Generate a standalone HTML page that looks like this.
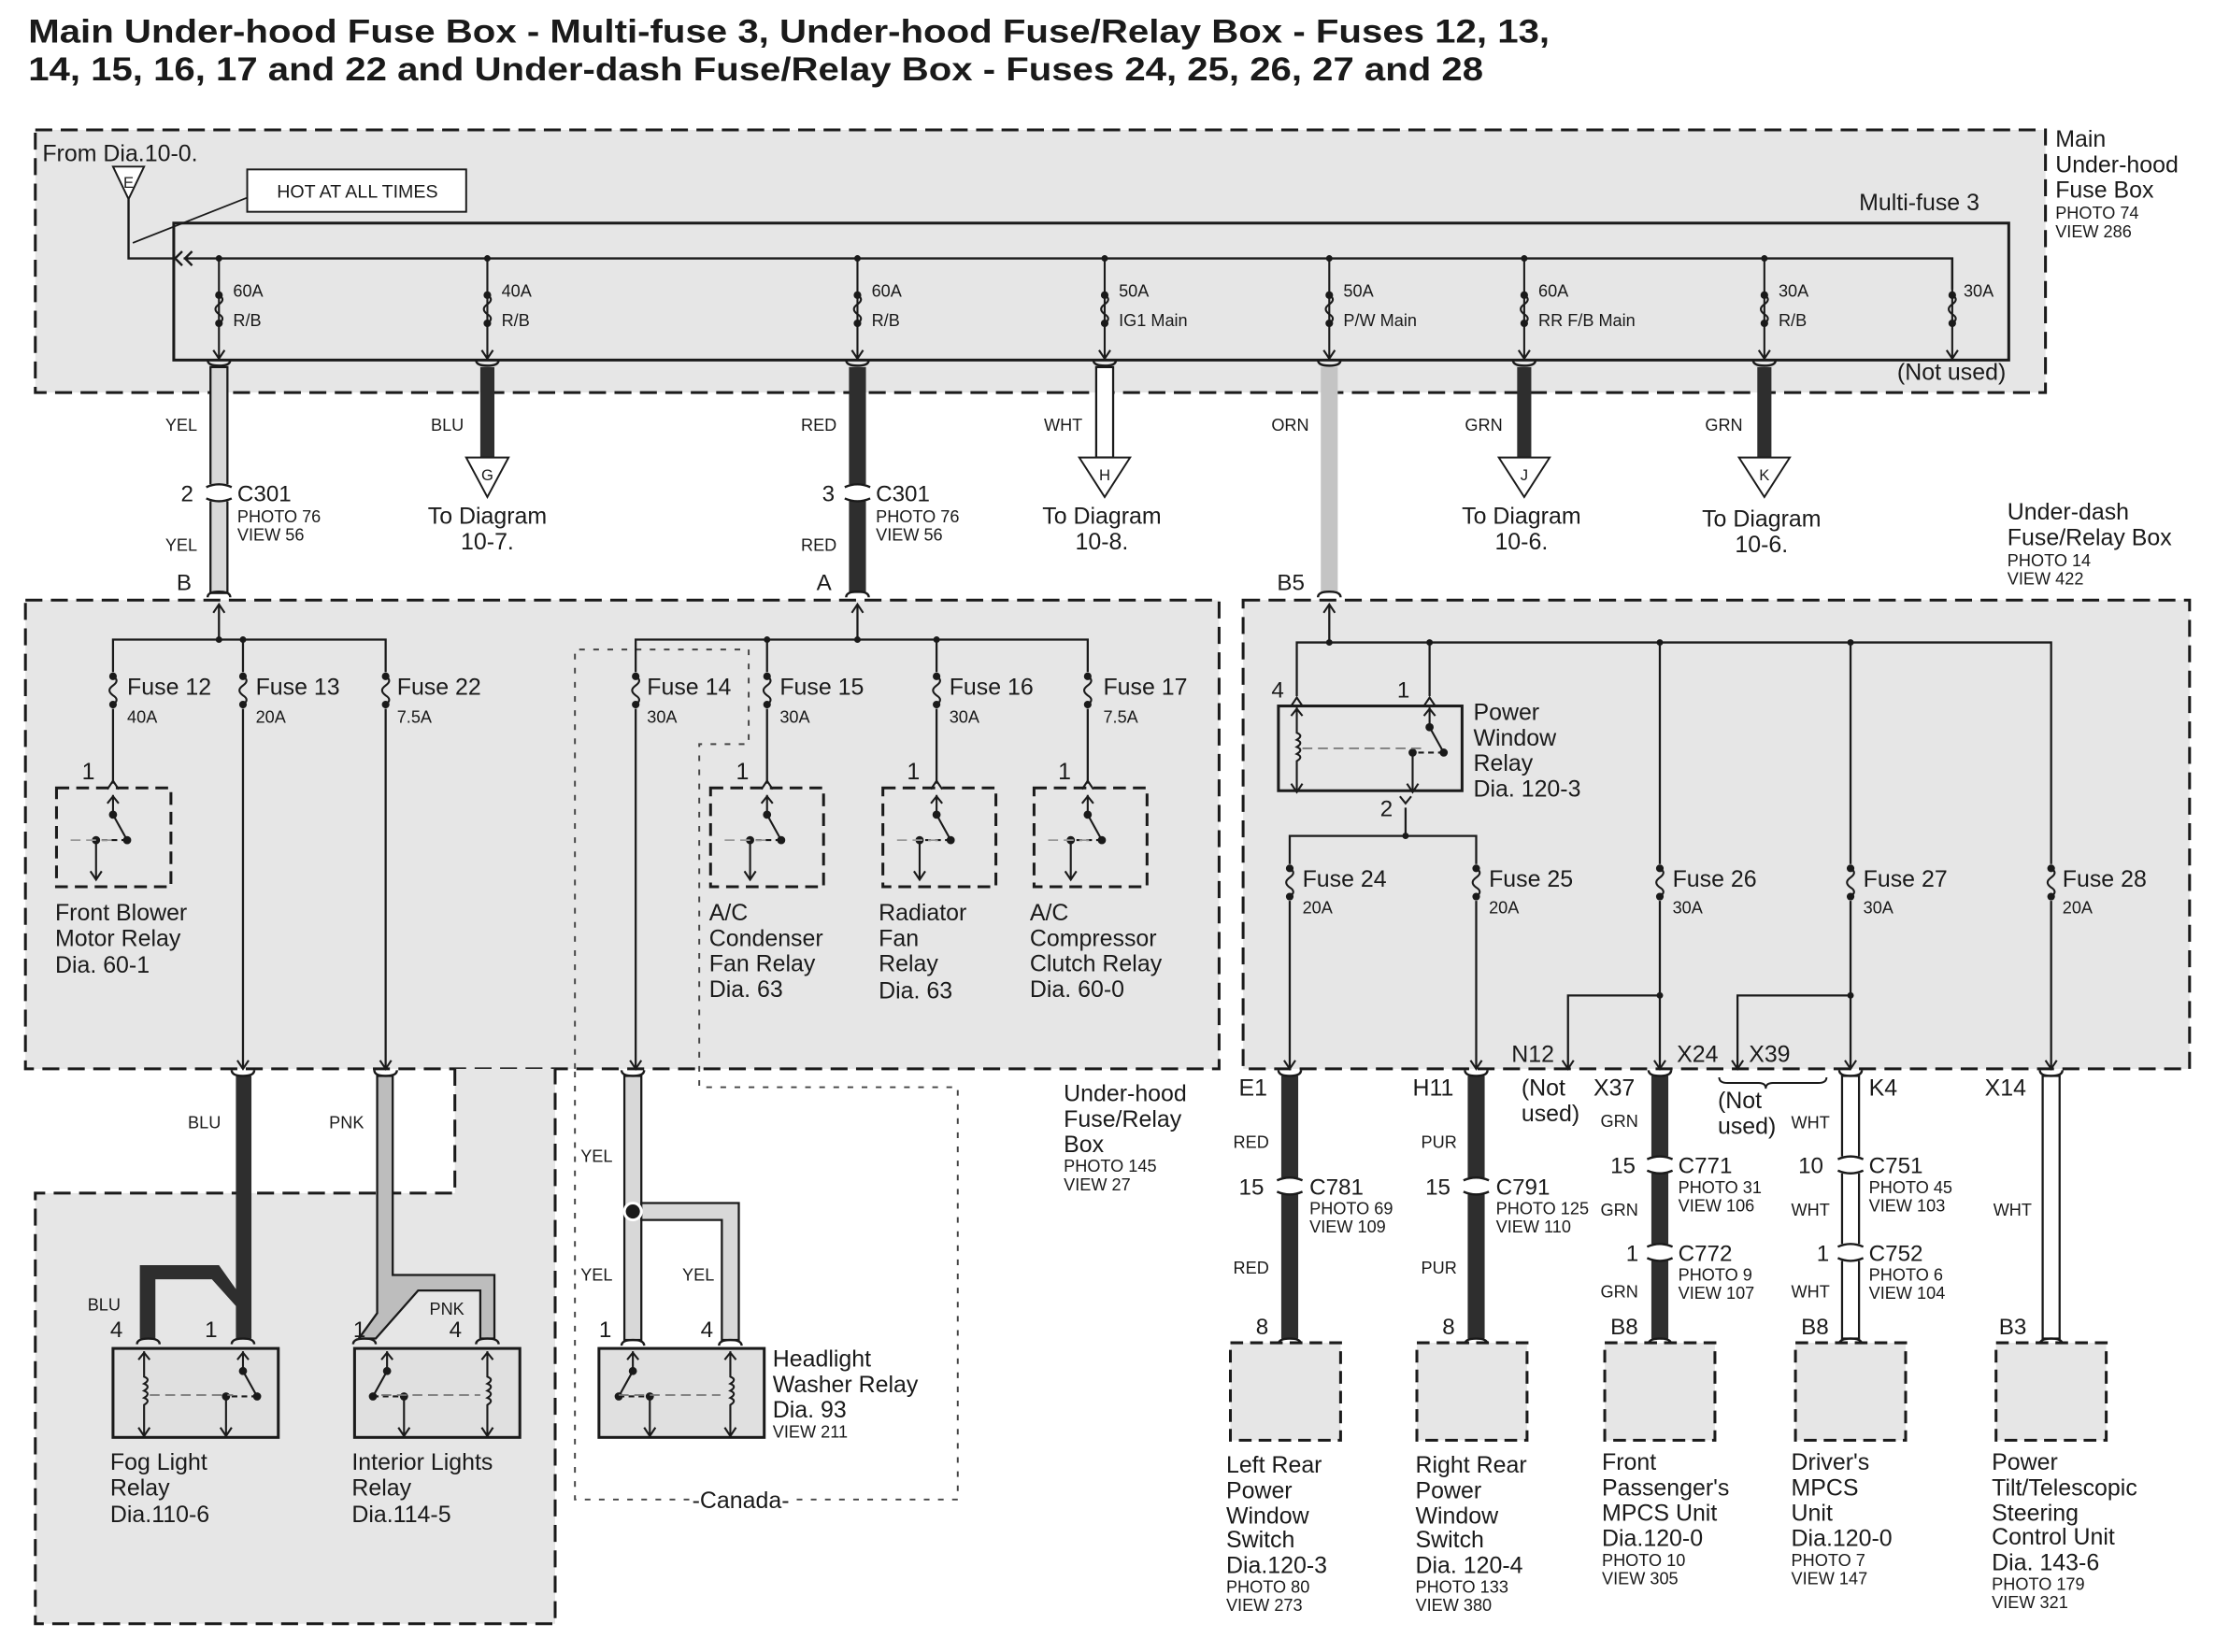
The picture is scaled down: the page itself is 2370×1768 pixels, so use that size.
<!DOCTYPE html>
<html><head><meta charset="utf-8"><style>
html,body{margin:0;padding:0;background:#fff}
svg{display:block}
text{font-family:"Liberation Sans",Arial,sans-serif;fill:#1a1a1a}
.b{font-weight:bold;font-size:23px}
.m{font-size:16.5px}
.s{font-size:12px}
.p{font-size:16px}
</style></head><body>
<svg width="2370" height="1768" viewBox="0 0 1568 1170" preserveAspectRatio="none" xmlns="http://www.w3.org/2000/svg">
<defs>
<g id="fz" fill="none" stroke="#1a1a1a" stroke-width="1.4"><path d="M0,-10 q5,3 0,6.5 q-5,3.5 0,7 q5,3 0,6.5"/><circle cx="0" cy="-10" r="2" fill="#1a1a1a"/><circle cx="0" cy="10" r="2" fill="#1a1a1a"/></g>
<g id="ar" fill="none" stroke="#1a1a1a" stroke-width="1.4"><path d="M-4,-6 L0,0 L4,-6"/></g>
<g id="au" fill="none" stroke="#1a1a1a" stroke-width="1.4"><path d="M-4,6 L0,0 L4,6"/></g>
<g id="cn" fill="none" stroke="#1a1a1a" stroke-width="1.6"><path d="M-9,-4 q9,-4 18,0 M-9,4 q9,4 18,0"/></g>
<g id="pt" fill="none" stroke="#1a1a1a" stroke-width="1.6"><path d="M-8,4 q0,-4 8,-4 q8,0 8,4"/></g>
<g id="pb" fill="none" stroke="#1a1a1a" stroke-width="1.6"><path d="M-8,-4 q0,4 8,4 q8,0 8,-4"/></g>
<g id="sw" fill="none" stroke="#1a1a1a" stroke-width="1.4"><path d="M0,0 V14 L10,32"/><path d="M-4,6 L0,1 L4,6"/><circle cx="0" cy="14" r="2.2" fill="#1a1a1a"/><circle cx="10" cy="32" r="2.2" fill="#1a1a1a"/><path d="M10,32 H-12" stroke-dasharray="4 3"/><circle cx="-12" cy="32" r="2.2" fill="#1a1a1a"/><path d="M-12,32 V60 M-16,54 L-12,60 L-8,54"/></g>
<g id="coil" fill="none" stroke="#1a1a1a" stroke-width="1.4"><path d="M0,0 V18 q5,2 0,5 q5,2 0,5 q5,2 0,5 q5,2 0,5 V60"/><path d="M-4,6 L0,1 L4,6 M-4,54 L0,60 L4,54"/></g>
</defs>

<text class="b" x="20" y="30" textLength="1077" lengthAdjust="spacingAndGlyphs">Main Under-hood Fuse Box - Multi-fuse 3, Under-hood Fuse/Relay Box - Fuses 12, 13,</text>
<text class="b" x="20" y="57" textLength="1030" lengthAdjust="spacingAndGlyphs">14, 15, 16, 17 and 22 and Under-dash Fuse/Relay Box - Fuses 24, 25, 26, 27 and 28</text>

<!-- main box -->
<rect x="25" y="92" width="1423" height="186" fill="#e6e6e6" stroke="#1a1a1a" stroke-width="2" stroke-dasharray="12 6"/>
<text class="m" x="1455" y="104">Main</text><text class="m" x="1455" y="122">Under-hood</text><text class="m" x="1455" y="140">Fuse Box</text>
<text class="s" x="1455" y="155">PHOTO 74</text><text class="s" x="1455" y="168">VIEW 286</text>
<text class="m" x="30" y="114">From Dia.10-0.</text>
<path d="M80,118 H102 L91,141 Z" fill="#fff" stroke="#1a1a1a" stroke-width="1.3"/><text x="91" y="133" font-size="11" text-anchor="middle">E</text>
<rect x="175" y="120" width="155" height="30" fill="#fff" stroke="#1a1a1a" stroke-width="1.3"/>
<text x="253" y="140" font-size="13" text-anchor="middle">HOT AT ALL TIMES</text>
<path d="M175,140 L94,172" stroke="#1a1a1a" stroke-width="1.2" fill="none"/>
<rect x="123" y="158" width="1299" height="97" fill="none" stroke="#1a1a1a" stroke-width="2"/>
<text class="m" x="1316" y="149">Multi-fuse 3</text>
<path d="M91,141 V183 H125 M129,178 L124,183 L129,188 M136,178 L131,183 L136,188 M130,183 H1382 V205" stroke="#1a1a1a" stroke-width="1.6" fill="none"/>
<g stroke="#1a1a1a" stroke-width="1.4">
<line x1="155" y1="183" x2="155" y2="255"/><line x1="345" y1="183" x2="345" y2="255"/><line x1="607" y1="183" x2="607" y2="255"/><line x1="782" y1="183" x2="782" y2="255"/><line x1="941" y1="183" x2="941" y2="255"/><line x1="1079" y1="183" x2="1079" y2="255"/><line x1="1249" y1="183" x2="1249" y2="255"/><line x1="1382" y1="183" x2="1382" y2="255"/>
</g>
<g fill="#1a1a1a"><circle cx="155" cy="183" r="2.3"/><circle cx="345" cy="183" r="2.3"/><circle cx="607" cy="183" r="2.3"/><circle cx="782" cy="183" r="2.3"/><circle cx="941" cy="183" r="2.3"/><circle cx="1079" cy="183" r="2.3"/><circle cx="1249" cy="183" r="2.3"/></g>
<g>
<use href="#fz" x="155" y="219"/><use href="#fz" x="345" y="219"/><use href="#fz" x="607" y="219"/><use href="#fz" x="782" y="219"/><use href="#fz" x="941" y="219"/><use href="#fz" x="1079" y="219"/><use href="#fz" x="1249" y="219"/><use href="#fz" x="1382" y="219"/>
<use href="#ar" x="155" y="254"/><use href="#ar" x="345" y="254"/><use href="#ar" x="607" y="254"/><use href="#ar" x="782" y="254"/><use href="#ar" x="941" y="254"/><use href="#ar" x="1079" y="254"/><use href="#ar" x="1249" y="254"/><use href="#ar" x="1382" y="254"/>
</g>
<text class="s" x="165" y="210">60A</text><text class="s" x="165" y="231">R/B</text>
<text class="s" x="355" y="210">40A</text><text class="s" x="355" y="231">R/B</text>
<text class="s" x="617" y="210">60A</text><text class="s" x="617" y="231">R/B</text>
<text class="s" x="792" y="210">50A</text><text class="s" x="792" y="231">IG1 Main</text>
<text class="s" x="951" y="210">50A</text><text class="s" x="951" y="231">P/W Main</text>
<text class="s" x="1089" y="210">60A</text><text class="s" x="1089" y="231">RR F/B Main</text>
<text class="s" x="1259" y="210">30A</text><text class="s" x="1259" y="231">R/B</text>
<text class="s" x="1390" y="210">30A</text>
<text class="m" x="1343" y="269">(Not used)</text>

<!-- wires from main box -->
<rect x="149" y="260" width="12" height="160" fill="#d8d8d8" stroke="#1a1a1a" stroke-width="1.5"/>
<rect x="340" y="260" width="10" height="64" fill="#2e2e2e"/>
<rect x="601" y="260" width="12" height="160" fill="#2e2e2e"/>
<rect x="776" y="260" width="12" height="64" fill="#fff" stroke="#1a1a1a" stroke-width="1.5"/>
<rect x="935" y="260" width="12" height="160" fill="#c4c4c4"/>
<rect x="1074" y="260" width="10" height="64" fill="#2e2e2e"/>
<rect x="1244" y="260" width="10" height="64" fill="#2e2e2e"/>
<use href="#pb" x="155" y="259"/><use href="#pb" x="345" y="259"/><use href="#pb" x="607" y="259"/><use href="#pb" x="782" y="259"/><use href="#pb" x="941" y="259"/><use href="#pb" x="1079" y="259"/><use href="#pb" x="1249" y="259"/>
<rect x="145" y="343" width="20" height="12" fill="#fff"/><use href="#cn" x="155" y="349"/>
<rect x="597" y="343" width="20" height="12" fill="#fff"/><use href="#cn" x="607" y="349"/>
<use href="#pt" x="155" y="419"/><use href="#pt" x="607" y="419"/><use href="#pt" x="941" y="419"/>
<text class="s" x="117" y="305">YEL</text><text class="s" x="117" y="390">YEL</text>
<text class="p" x="128" y="355">2</text><text class="p" x="168" y="355">C301</text>
<text class="s" x="168" y="370">PHOTO 76</text><text class="s" x="168" y="383">VIEW 56</text>
<text class="p" x="125" y="418">B</text>
<text class="s" x="305" y="305">BLU</text>
<text class="s" x="567" y="305">RED</text><text class="s" x="567" y="390">RED</text>
<text class="p" x="582" y="355">3</text><text class="p" x="620" y="355">C301</text>
<text class="s" x="620" y="370">PHOTO 76</text><text class="s" x="620" y="383">VIEW 56</text>
<text class="p" x="578" y="418">A</text>
<text class="s" x="739" y="305">WHT</text>
<text class="s" x="900" y="305">ORN</text>
<text class="p" x="904" y="418">B5</text>
<text class="s" x="1037" y="305">GRN</text><text class="s" x="1207" y="305">GRN</text>
<g fill="#fff" stroke="#1a1a1a" stroke-width="1.3">
<path d="M330,324 H360 L345,352 Z"/><path d="M764,324 H800 L782,352 Z"/><path d="M1061,324 H1097 L1079,352 Z"/><path d="M1231,324 H1267 L1249,352 Z"/>
</g>
<text x="345" y="340" font-size="11" text-anchor="middle">G</text><text x="782" y="340" font-size="11" text-anchor="middle">H</text><text x="1079" y="340" font-size="11" text-anchor="middle">J</text><text x="1249" y="340" font-size="11" text-anchor="middle">K</text>
<g text-anchor="middle">
<text x="345" y="371" class="m">To Diagram</text><text x="345" y="389" class="m">10-7.</text>
<text x="780" y="371" class="m">To Diagram</text><text x="780" y="389" class="m">10-8.</text>
<text x="1077" y="371" class="m">To Diagram</text><text x="1077" y="389" class="m">10-6.</text>
<text x="1247" y="373" class="m">To Diagram</text><text x="1247" y="391" class="m">10-6.</text>
</g>
<text class="m" x="1421" y="368">Under-dash</text><text class="m" x="1421" y="386">Fuse/Relay Box</text>
<text class="s" x="1421" y="401">PHOTO 14</text><text class="s" x="1421" y="414">VIEW 422</text>

<!-- under-hood fuse/relay box -->
<rect x="18" y="425" width="845" height="332" fill="#e6e6e6" stroke="#1a1a1a" stroke-width="2" stroke-dasharray="12 6"/>
<rect x="322" y="757" width="71" height="90" fill="#e6e6e6"/>
<rect x="25" y="845" width="368" height="305" fill="#e6e6e6"/>
<path d="M407,757 V460 H530 V527 H495 V770 H678 V1062 H407 Z" fill="none" stroke="#444" stroke-width="1.3" stroke-dasharray="4 6"/>
<path d="M322,757 V845 H25 V1150 H393 V757" fill="none" stroke="#1a1a1a" stroke-width="2" stroke-dasharray="12 6"/>
<g stroke="#1a1a1a" stroke-width="1.5" fill="none">
<path d="M155,453 V428"/><path d="M80,555 V453 H273 V757"/><path d="M172,453 V757"/>
<path d="M450,757 V453 H770 V555"/><path d="M543,453 V555"/><path d="M663,453 V555"/><path d="M607,453 V428"/>
</g>
<use href="#au" x="155" y="428"/><use href="#au" x="607" y="428"/>
<g fill="#1a1a1a"><circle cx="155" cy="453" r="2.3"/><circle cx="172" cy="453" r="2.3"/><circle cx="543" cy="453" r="2.3"/><circle cx="607" cy="453" r="2.3"/><circle cx="663" cy="453" r="2.3"/></g>
<use href="#ar" x="172" y="757"/><use href="#ar" x="273" y="757"/><use href="#ar" x="450" y="757"/>
<rect x="75" y="476" width="10" height="26" fill="#e6e6e6"/><rect x="167" y="476" width="10" height="26" fill="#e6e6e6"/><rect x="268" y="476" width="10" height="26" fill="#e6e6e6"/><rect x="445" y="476" width="10" height="26" fill="#e6e6e6"/><rect x="538" y="476" width="10" height="26" fill="#e6e6e6"/><rect x="658" y="476" width="10" height="26" fill="#e6e6e6"/><rect x="765" y="476" width="10" height="26" fill="#e6e6e6"/>
<use href="#fz" x="80" y="489"/><use href="#fz" x="172" y="489"/><use href="#fz" x="273" y="489"/><use href="#fz" x="450" y="489"/><use href="#fz" x="543" y="489"/><use href="#fz" x="663" y="489"/><use href="#fz" x="770" y="489"/>
<text class="m" x="90" y="492">Fuse 12</text><text class="s" x="90" y="512">40A</text>
<text class="m" x="181" y="492">Fuse 13</text><text class="s" x="181" y="512">20A</text>
<text class="m" x="281" y="492">Fuse 22</text><text class="s" x="281" y="512">7.5A</text>
<text class="m" x="458" y="492">Fuse 14</text><text class="s" x="458" y="512">30A</text>
<text class="m" x="552" y="492">Fuse 15</text><text class="s" x="552" y="512">30A</text>
<text class="m" x="672" y="492">Fuse 16</text><text class="s" x="672" y="512">30A</text>
<text class="m" x="781" y="492">Fuse 17</text><text class="s" x="781" y="512">7.5A</text>
<g fill="none" stroke="#1a1a1a" stroke-width="2" stroke-dasharray="9 5">
<rect x="40" y="558" width="81" height="70"/><rect x="503" y="558" width="80" height="70"/><rect x="625" y="558" width="80" height="70"/><rect x="732" y="558" width="80" height="70"/>
</g>
<use href="#au" x="80" y="553"/><use href="#au" x="543" y="553"/><use href="#au" x="663" y="553"/><use href="#au" x="770" y="553"/>
<use href="#sw" x="80" y="563"/><use href="#sw" x="543" y="563"/><use href="#sw" x="663" y="563"/><use href="#sw" x="770" y="563"/>
<g stroke="#999" stroke-width="1.2" stroke-dasharray="7 4"><path d="M50,595 H82 M513,595 H545 M635,595 H665 M742,595 H772"/></g>
<text class="m" x="58" y="552">1</text><text class="m" x="521" y="552">1</text><text class="m" x="642" y="552">1</text><text class="m" x="749" y="552">1</text>
<text class="m" x="39" y="652">Front Blower</text><text class="m" x="39" y="670">Motor Relay</text><text class="m" x="39" y="689">Dia. 60-1</text>
<text class="m" x="502" y="652">A/C</text><text class="m" x="502" y="670">Condenser</text><text class="m" x="502" y="688">Fan Relay</text><text class="m" x="502" y="706">Dia. 63</text>
<text class="m" x="622" y="652">Radiator</text><text class="m" x="622" y="670">Fan</text><text class="m" x="622" y="688">Relay</text><text class="m" x="622" y="707">Dia. 63</text>
<text class="m" x="729" y="652">A/C</text><text class="m" x="729" y="670">Compressor</text><text class="m" x="729" y="688">Clutch Relay</text><text class="m" x="729" y="706">Dia. 60-0</text>
<text class="m" x="753" y="780">Under-hood</text><text class="m" x="753" y="798">Fuse/Relay</text><text class="m" x="753" y="816">Box</text>
<text class="s" x="753" y="830">PHOTO 145</text><text class="s" x="753" y="843">VIEW 27</text>

<!-- lower left wires -->
<path d="M167,762 h11 V948 h-11 V925 L150,906 H110 V948 h-11 V896 h56 L167,913 Z" fill="#2e2e2e"/>
<path d="M267,762 h11 V903 H350 V948 h-10 V914 H296 L266,948 H254 L267,930 Z" fill="#bdbdbd" stroke="#1a1a1a" stroke-width="1.5"/>
<use href="#pb" x="172" y="762"/><use href="#pb" x="273" y="762"/>
<use href="#pt" x="105" y="948"/><use href="#pt" x="172" y="948"/><use href="#pt" x="258" y="948"/><use href="#pt" x="345" y="948"/>
<text class="s" x="133" y="799">BLU</text><text class="s" x="233" y="799">PNK</text>
<text class="s" x="62" y="928">BLU</text><text class="s" x="304" y="931">PNK</text>
<text class="p" x="78" y="947">4</text><text class="p" x="145" y="947">1</text><text class="p" x="250" y="947">1</text><text class="p" x="318" y="947">4</text>
<rect x="80" y="955" width="117" height="63" fill="#e0e0e0" stroke="#1a1a1a" stroke-width="2"/>
<use href="#coil" x="102" y="957"/><use href="#sw" x="172" y="957"/>
<path d="M106,988 H165" stroke="#777" stroke-dasharray="7 4" stroke-width="1.2"/>
<rect x="251" y="955" width="117" height="63" fill="#e0e0e0" stroke="#1a1a1a" stroke-width="2"/>
<use href="#sw" transform="translate(548,0) scale(-1,1)" x="274" y="957"/><use href="#coil" x="345" y="957"/>
<path d="M270,988 H340" stroke="#777" stroke-dasharray="7 4" stroke-width="1.2"/>
<text class="m" x="78" y="1041">Fog Light</text><text class="m" x="78" y="1059">Relay</text><text class="m" x="78" y="1078">Dia.110-6</text>
<text class="m" x="249" y="1041">Interior Lights</text><text class="m" x="249" y="1059">Relay</text><text class="m" x="249" y="1078">Dia.114-5</text>

<!-- headlight washer -->
<rect x="442" y="762" width="12" height="187" fill="#d8d8d8" stroke="#1a1a1a" stroke-width="1.5"/>
<path d="M454,852 H523 V949 H511 V864 H454 Z" fill="#d8d8d8" stroke="#1a1a1a" stroke-width="1.5"/>
<circle cx="448" cy="858" r="7" fill="#fff"/><circle cx="448" cy="858" r="5" fill="#1a1a1a"/>
<use href="#pb" x="448" y="762"/><use href="#pt" x="448" y="949"/><use href="#pt" x="517" y="949"/>
<text class="s" x="411" y="823">YEL</text><text class="s" x="411" y="907">YEL</text><text class="s" x="483" y="907">YEL</text>
<text class="p" x="424" y="947">1</text><text class="p" x="496" y="947">4</text>
<rect x="424" y="955" width="117" height="63" fill="#e0e0e0" stroke="#1a1a1a" stroke-width="2"/>
<use href="#sw" transform="translate(896,0) scale(-1,1)" x="448" y="957"/><use href="#coil" x="517" y="957"/>
<path d="M438,988 H510" stroke="#777" stroke-dasharray="7 4" stroke-width="1.2"/>
<text class="m" x="547" y="968">Headlight</text><text class="m" x="547" y="986">Washer Relay</text><text class="m" x="547" y="1004">Dia. 93</text><text class="s" x="547" y="1018">VIEW 211</text>
<rect x="488" y="1052" width="72" height="18" fill="#fff"/>
<text class="m" x="490" y="1068">-Canada-</text>

<!-- under-dash box -->
<rect x="880" y="425" width="670" height="332" fill="#e6e6e6" stroke="#1a1a1a" stroke-width="2" stroke-dasharray="12 6"/>
<g stroke="#1a1a1a" stroke-width="1.5" fill="none">
<path d="M941,428 V455"/><path d="M918,493 V455 H1452 V757"/><path d="M1012,493 V455"/>
<path d="M1175,455 V757"/><path d="M1310,455 V757"/>
<path d="M995,572 V592 M913,757 V592 H1045 V757"/>
<path d="M1110,757 V705 H1175"/><path d="M1230,757 V705 H1310"/>
</g>
<use href="#au" x="941" y="428"/>
<g fill="#1a1a1a"><circle cx="941" cy="455" r="2.3"/><circle cx="1012" cy="455" r="2.3"/><circle cx="1175" cy="455" r="2.3"/><circle cx="1310" cy="455" r="2.3"/><circle cx="995" cy="592" r="2.3"/><circle cx="1175" cy="705" r="2.3"/><circle cx="1310" cy="705" r="2.3"/></g>
<use href="#au" x="918" y="494"/><use href="#au" x="1012" y="494"/>
<rect x="905" y="500" width="130" height="60" fill="#e6e6e6" stroke="#1a1a1a" stroke-width="2"/>
<use href="#coil" x="918" y="501"/>
<use href="#sw" x="1012" y="501"/>
<path d="M922,530 H1010" stroke="#777" stroke-dasharray="7 4" stroke-width="1.2"/>
<path d="M991,564 L995,569 L999,564" stroke="#1a1a1a" fill="none" stroke-width="1.4"/>
<text class="p" x="900" y="494">4</text><text class="p" x="989" y="494">1</text><text class="p" x="977" y="578">2</text>
<text class="m" x="1043" y="510">Power</text><text class="m" x="1043" y="528">Window</text><text class="m" x="1043" y="546">Relay</text><text class="m" x="1043" y="564">Dia. 120-3</text>
<rect x="908" y="612" width="10" height="26" fill="#e6e6e6"/><rect x="1040" y="612" width="10" height="26" fill="#e6e6e6"/><rect x="1170" y="612" width="10" height="26" fill="#e6e6e6"/><rect x="1305" y="612" width="10" height="26" fill="#e6e6e6"/><rect x="1447" y="612" width="10" height="26" fill="#e6e6e6"/>
<use href="#fz" x="913" y="625"/><use href="#fz" x="1045" y="625"/><use href="#fz" x="1175" y="625"/><use href="#fz" x="1310" y="625"/><use href="#fz" x="1452" y="625"/>
<text class="m" x="922" y="628">Fuse 24</text><text class="s" x="922" y="647">20A</text>
<text class="m" x="1054" y="628">Fuse 25</text><text class="s" x="1054" y="647">20A</text>
<text class="m" x="1184" y="628">Fuse 26</text><text class="s" x="1184" y="647">30A</text>
<text class="m" x="1319" y="628">Fuse 27</text><text class="s" x="1319" y="647">30A</text>
<text class="m" x="1460" y="628">Fuse 28</text><text class="s" x="1460" y="647">20A</text>
<use href="#ar" x="913" y="757"/><use href="#ar" x="1045" y="757"/><use href="#ar" x="1110" y="757"/><use href="#ar" x="1175" y="757"/><use href="#ar" x="1230" y="757"/><use href="#ar" x="1310" y="757"/><use href="#ar" x="1452" y="757"/>

<!-- under-dash wires -->
<rect x="907" y="762" width="12" height="186" fill="#2e2e2e"/>
<rect x="1039" y="762" width="12" height="186" fill="#2e2e2e"/>
<rect x="1169" y="762" width="12" height="186" fill="#2e2e2e"/>
<rect x="1304" y="762" width="12" height="186" fill="#fff" stroke="#1a1a1a" stroke-width="1.5"/>
<rect x="1446" y="762" width="12" height="186" fill="#fff" stroke="#1a1a1a" stroke-width="1.5"/>
<g fill="#fff"><rect x="903" y="834" width="20" height="12"/><rect x="1035" y="834" width="20" height="12"/><rect x="1165" y="819" width="20" height="12"/><rect x="1165" y="881" width="20" height="12"/><rect x="1300" y="819" width="20" height="12"/><rect x="1300" y="881" width="20" height="12"/></g>
<use href="#cn" x="913" y="840"/><use href="#cn" x="1045" y="840"/><use href="#cn" x="1175" y="825"/><use href="#cn" x="1175" y="887"/><use href="#cn" x="1310" y="825"/><use href="#cn" x="1310" y="887"/>
<use href="#pb" x="913" y="762"/><use href="#pb" x="1045" y="762"/><use href="#pb" x="1175" y="762"/><use href="#pb" x="1310" y="762"/><use href="#pb" x="1452" y="762"/>
<use href="#pt" x="913" y="948"/><use href="#pt" x="1045" y="948"/><use href="#pt" x="1175" y="948"/><use href="#pt" x="1310" y="948"/><use href="#pt" x="1452" y="948"/>
<path d="M1217,763 q0,4 6,4 H1245 q5,0 5,4 q0,-4 5,-4 H1287 q6,0 6,-4" fill="none" stroke="#1a1a1a" stroke-width="1.3"/>
<text class="m" x="1070" y="752">N12</text><text class="m" x="1187" y="752">X24</text><text class="m" x="1238" y="752">X39</text>
<text class="m" x="877" y="776">E1</text><text class="m" x="1000" y="776">H11</text><text class="m" x="1128" y="776">X37</text><text class="m" x="1323" y="776">K4</text><text class="m" x="1405" y="776">X14</text>
<text class="m" x="1077" y="776">(Not</text><text class="m" x="1077" y="794">used)</text>
<text class="m" x="1216" y="785">(Not</text><text class="m" x="1216" y="803">used)</text>
<text class="s" x="873" y="813">RED</text><text class="s" x="873" y="902">RED</text>
<text class="s" x="1006" y="813">PUR</text><text class="s" x="1006" y="902">PUR</text>
<text class="s" x="1133" y="798">GRN</text><text class="s" x="1133" y="861">GRN</text><text class="s" x="1133" y="919">GRN</text>
<text class="s" x="1268" y="799">WHT</text><text class="s" x="1268" y="861">WHT</text><text class="s" x="1268" y="919">WHT</text>
<text class="s" x="1411" y="861">WHT</text>
<text class="p" x="877" y="846">15</text><text class="p" x="927" y="846">C781</text><text class="s" x="927" y="860">PHOTO 69</text><text class="s" x="927" y="873">VIEW 109</text>
<text class="p" x="1009" y="846">15</text><text class="p" x="1059" y="846">C791</text><text class="s" x="1059" y="860">PHOTO 125</text><text class="s" x="1059" y="873">VIEW 110</text>
<text class="p" x="1140" y="831">15</text><text class="p" x="1188" y="831">C771</text><text class="s" x="1188" y="845">PHOTO 31</text><text class="s" x="1188" y="858">VIEW 106</text>
<text class="p" x="1151" y="893">1</text><text class="p" x="1188" y="893">C772</text><text class="s" x="1188" y="907">PHOTO 9</text><text class="s" x="1188" y="920">VIEW 107</text>
<text class="p" x="1273" y="831">10</text><text class="p" x="1323" y="831">C751</text><text class="s" x="1323" y="845">PHOTO 45</text><text class="s" x="1323" y="858">VIEW 103</text>
<text class="p" x="1286" y="893">1</text><text class="p" x="1323" y="893">C752</text><text class="s" x="1323" y="907">PHOTO 6</text><text class="s" x="1323" y="920">VIEW 104</text>
<text class="p" x="889" y="945">8</text><text class="p" x="1021" y="945">8</text><text class="p" x="1140" y="945">B8</text><text class="p" x="1275" y="945">B8</text><text class="p" x="1415" y="945">B3</text>
<g fill="#e6e6e6" stroke="#1a1a1a" stroke-width="2" stroke-dasharray="9 5">
<rect x="871" y="951" width="78" height="69"/><rect x="1003" y="951" width="78" height="69"/><rect x="1136" y="951" width="78" height="69"/><rect x="1271" y="951" width="78" height="69"/><rect x="1413" y="951" width="78" height="69"/>
</g>
<text class="m" x="868" y="1043">Left Rear</text><text class="m" x="868" y="1061">Power</text><text class="m" x="868" y="1079">Window</text><text class="m" x="868" y="1096">Switch</text><text class="m" x="868" y="1114">Dia.120-3</text>
<text class="m" x="1002" y="1043">Right Rear</text><text class="m" x="1002" y="1061">Power</text><text class="m" x="1002" y="1079">Window</text><text class="m" x="1002" y="1096">Switch</text><text class="m" x="1002" y="1114">Dia. 120-4</text>
<text class="m" x="1134" y="1041">Front</text><text class="m" x="1134" y="1059">Passenger's</text><text class="m" x="1134" y="1077">MPCS Unit</text><text class="m" x="1134" y="1095">Dia.120-0</text>
<text class="m" x="1268" y="1041">Driver's</text><text class="m" x="1268" y="1059">MPCS</text><text class="m" x="1268" y="1077">Unit</text><text class="m" x="1268" y="1095">Dia.120-0</text>
<text class="m" x="1410" y="1041">Power</text><text class="m" x="1410" y="1059">Tilt/Telescopic</text><text class="m" x="1410" y="1077">Steering</text><text class="m" x="1410" y="1094">Control Unit</text><text class="m" x="1410" y="1112">Dia. 143-6</text>
<text class="s" x="868" y="1128">PHOTO 80</text><text class="s" x="868" y="1141">VIEW 273</text>
<text class="s" x="1002" y="1128">PHOTO 133</text><text class="s" x="1002" y="1141">VIEW 380</text>
<text class="s" x="1134" y="1109">PHOTO 10</text><text class="s" x="1134" y="1122">VIEW 305</text>
<text class="s" x="1268" y="1109">PHOTO 7</text><text class="s" x="1268" y="1122">VIEW 147</text>
<text class="s" x="1410" y="1126">PHOTO 179</text><text class="s" x="1410" y="1139">VIEW 321</text>
</svg>
</body></html>
